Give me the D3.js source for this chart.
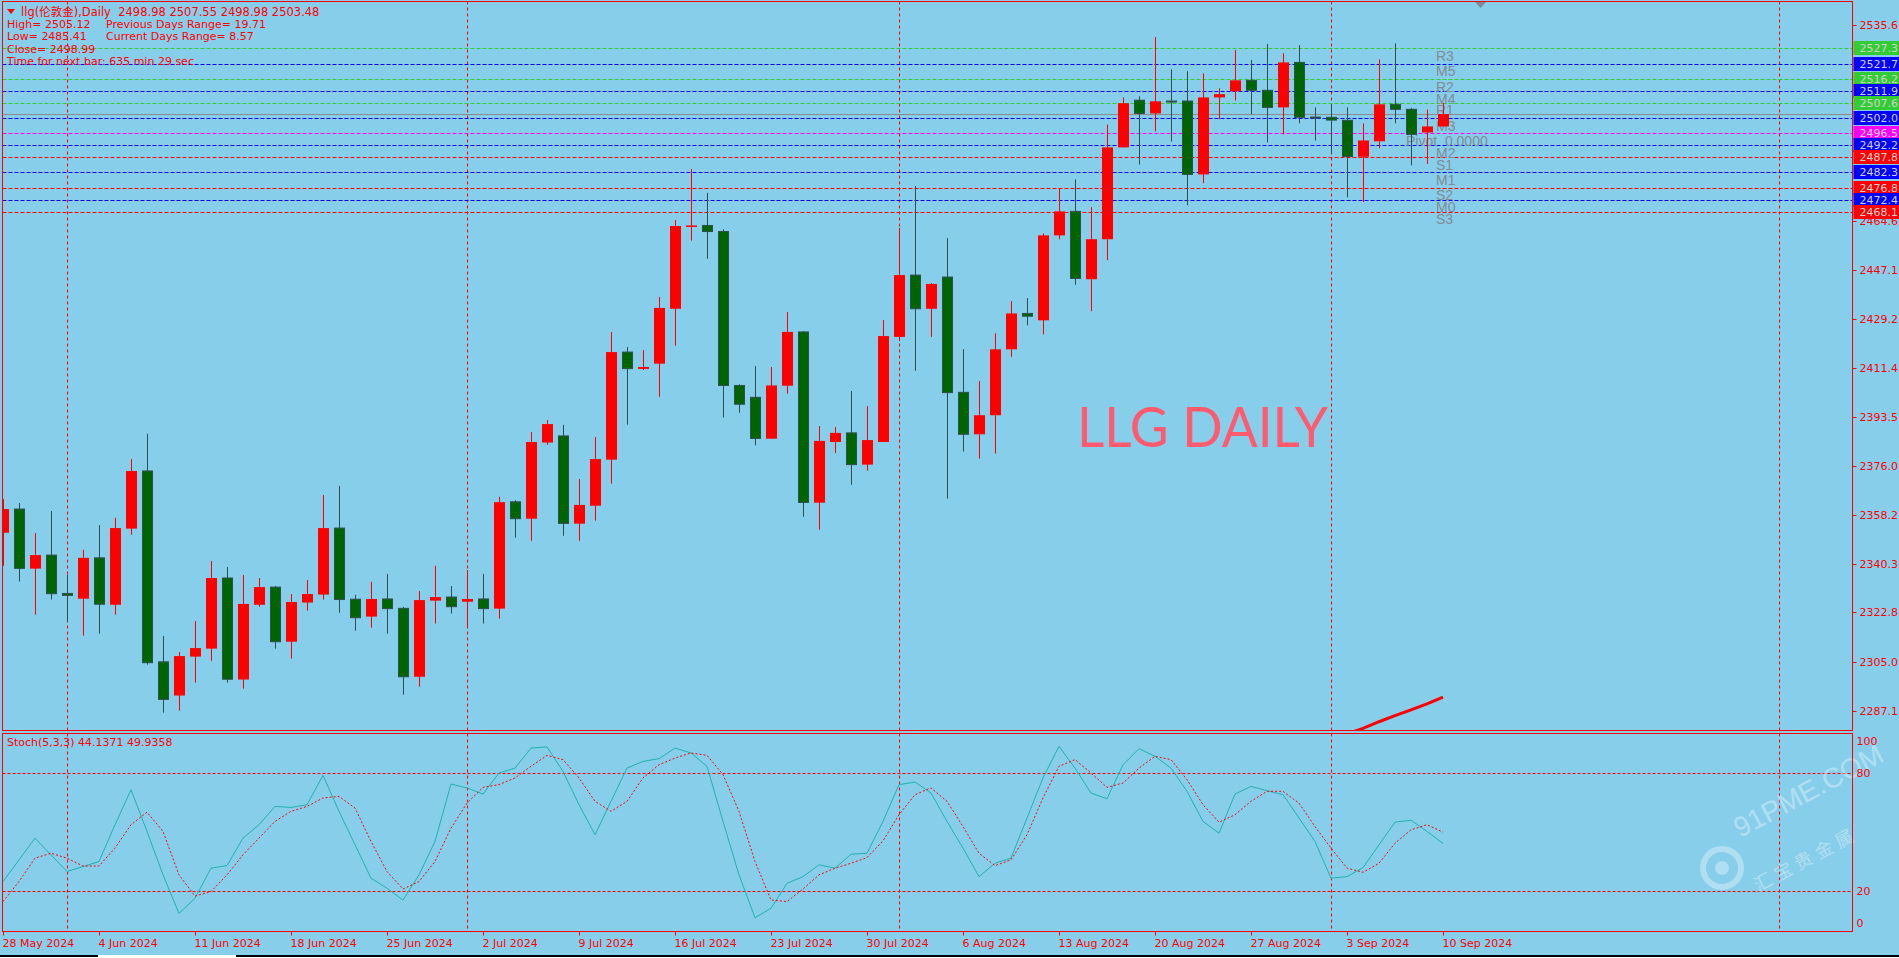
<!DOCTYPE html>
<html><head><meta charset="utf-8">
<script src="https://cdn.jsdelivr.net/npm/d3@7"></script>
<style>
html,body{margin:0;padding:0;background:#87CEEB;overflow:hidden}
svg{display:block}
text{white-space:pre}
</style></head><body>
<svg id="c" width="1899" height="958"></svg>
<script>
// ---------- DATA ----------
const opens = [2351.7,2360.3,2338.7,2343.6,2329.7,2327.8,2342.6,2325.6,2353.2,2374.1,
2304.9,2292.7,2306.8,2309.7,2335.3,2298.5,2325.6,2332.0,2312.2,2326.4,
2329.3,2353.4,2327.6,2321.3,2327.7,2324.3,2299.5,2327.1,2328.4,2326.7,
2327.7,2324.2,2362.9,2356.8,2384.4,2386.8,2355.0,2361.5,2378.2,2417.2,
2411.1,2413.0,2432.9,2462.6,2463.1,2460.9,2405.1,2400.8,2385.8,2405.0,
2424.5,2362.6,2384.6,2387.9,2376.4,2384.6,2422.7,2445.1,2432.9,2444.4,
2402.6,2387.4,2394.3,2418.2,2431.2,2428.7,2459.5,2468.2,2443.6,2458.1,
2491.4,2508.5,2503.7,2508.2,2508.2,2481.6,2509.5,2511.7,2515.7,2512.1,
2505.9,2522.2,2502.4,2502.3,2501.2,2488.0,2493.6,2507.0,2505.2,2496.8,
2498.98];
const highs = [2363.9,2362.5,2351.6,2359.6,2336.4,2345.5,2354.5,2357.1,2378.4,2387.6,
2314.3,2308.5,2319.7,2341.5,2339.3,2336.4,2335.3,2332.4,2329.5,2334.6,
2365.4,2368.7,2329.2,2333.9,2336.8,2324.8,2330.6,2339.7,2332.4,2338.2,
2336.8,2364.7,2363.5,2388.2,2392.6,2390.8,2371.2,2386.4,2424.5,2419.0,
2417.9,2437.2,2465.1,2483.6,2474.9,2461.7,2405.5,2412.1,2411.8,2431.7,
2424.8,2390.4,2390.0,2403.1,2397.6,2428.8,2462.2,2477.4,2442.2,2458.5,
2418.3,2406.7,2424.0,2435.7,2436.8,2460.2,2476.6,2479.8,2469.7,2499.7,
2509.5,2509.9,2531.4,2519.7,2519.0,2518.2,2512.8,2526.7,2523.1,2528.9,
2525.5,2528.5,2505.9,2507.1,2505.9,2500.1,2523.3,2529.1,2505.7,2505.12,
2507.55];
const lows = [2339.7,2334.0,2322.0,2327.5,2319.5,2314.4,2315.1,2322.0,2351.0,2303.9,
2286.5,2287.2,2297.4,2305.3,2297.4,2295.2,2324.9,2309.7,2306.1,2323.5,
2327.5,2322.7,2316.2,2317.3,2315.1,2293.0,2295.9,2318.8,2322.4,2317.3,
2318.8,2320.6,2349.9,2348.8,2383.6,2350.6,2348.8,2356.1,2369.5,2390.9,
2410.7,2401.0,2419.5,2457.6,2451.0,2393.5,2395.2,2383.4,2385.8,2402.1,
2357.5,2352.8,2380.6,2369.1,2374.2,2384.6,2421.2,2410.4,2422.7,2364.1,
2381.1,2378.6,2380.4,2415.5,2426.9,2423.6,2458.1,2441.6,2432.0,2450.5,
2491.4,2485.2,2497.2,2493.5,2470.4,2478.4,2501.6,2508.4,2503.4,2493.2,
2496.1,2500.1,2493.9,2489.2,2473.3,2471.6,2491.1,2500.1,2484.9,2485.41,
2498.98];
const closes = [2360.3,2338.8,2343.6,2329.6,2329.0,2342.6,2325.8,2353.4,2374.1,2304.6,
2291.3,2307.0,2309.9,2335.3,2298.6,2325.9,2332.0,2312.2,2326.6,2329.5,
2353.4,2327.5,2320.9,2327.7,2324.2,2299.5,2327.3,2328.4,2324.9,2327.7,
2324.2,2362.8,2356.8,2384.6,2391.1,2355.1,2361.8,2378.4,2417.2,2411.2,
2411.8,2433.2,2462.9,2463.1,2460.9,2405.1,2398.3,2385.9,2405.1,2424.5,
2362.7,2385.0,2387.9,2376.4,2385.3,2423.0,2445.1,2432.9,2441.9,2402.5,
2387.4,2394.3,2418.2,2431.2,2430.2,2459.5,2468.2,2443.9,2458.1,2491.4,
2507.4,2503.7,2508.1,2508.0,2481.6,2509.5,2510.7,2515.7,2512.1,2505.9,
2522.2,2502.3,2502.2,2501.3,2488.1,2493.9,2507.0,2505.2,2496.1,2498.99,
2503.48];

const stochK = [24.8,35.8,46.9,38.4,29.9,32.4,35.0,53.7,71.5,50.3,
28.2,8.6,16.3,31.6,32.9,46.9,53.7,63.0,62.5,63.9,
78.8,60.5,43.5,26.5,21.4,15.4,28.2,45.2,74.4,72.4,
69.3,80.0,82.5,92.7,93.3,80.8,63.9,48.6,65.6,82.5,
85.9,87.3,92.7,90.2,83.4,55.4,28.2,6.4,11.2,23.9,
27.3,33.3,31.6,38.7,39.2,55.4,74.1,75.4,69.8,55.4,
41.8,27.3,34.1,36.7,57.1,77.5,93.6,82.5,69.8,66.9,
84.2,92.4,88.5,82.5,70.7,55.4,49.4,69.3,73.2,71.0,
69.0,57.1,45.2,26.5,27.3,31.9,43.5,55.0,56.0,50.3,
44.1371];
const stochD = [14.6,24.8,36.7,39.2,36.7,32.7,32.7,41.8,53.7,60.1,
50.3,28.2,17.4,19.7,28.2,38.4,46.9,55.4,60.5,63.0,
67.3,68.1,62.2,45.2,29.9,21.0,24.8,35.0,52.0,64.7,
72.7,74.1,77.5,83.4,89.0,86.8,77.5,65.6,60.5,65.6,
77.5,84.2,87.6,90.2,89.0,79.2,60.5,35.0,15.4,14.6,
21.0,28.2,31.6,34.1,37.0,45.5,58.8,69.0,72.4,65.6,
52.8,39.2,32.9,35.8,48.6,67.3,83.4,86.8,80.0,72.7,
74.9,82.5,88.5,86.8,76.6,63.9,55.0,58.8,65.6,70.7,
70.7,64.7,52.8,41.8,31.6,29.5,34.1,44.3,51.1,53.7,
49.9358];

const redLineStart = 84;
const redLineVals = [2278.8,2280.8,2283.2,2285.4,2287.5,2289.7,2292.1];

const priceTicks = [2535.6,2464.6,2447.1,2429.2,2411.4,2393.5,2376.0,2358.2,2340.3,2322.8,2305.0,2287.1];
const pivotNames  = ["R3","M5","R2","M4","R1","M3","Pivot  0.0000","M2","S1","M1","S2","M0","S3"];
const pivotValues = [2527.3,2521.7,2516.2,2511.9,2507.6,2502.0,2496.5,2492.2,2487.8,2482.3,2476.8,2472.4,2468.1];
const pivotKinds  = ["R","M","R","M","R","M","P","M","S","M","S","M","S"];

const dateLabels = ["28 May 2024","4 Jun 2024","11 Jun 2024","18 Jun 2024","25 Jun 2024","2 Jul 2024","9 Jul 2024","16 Jul 2024","23 Jul 2024","30 Jul 2024","6 Aug 2024","13 Aug 2024","20 Aug 2024","27 Aug 2024","3 Sep 2024","10 Sep 2024"];
const dateIdx = [0,6,12,18,24,30,36,42,48,54,60,66,72,78,84,90];
const separatorIdx = [4,29,56,83,111];

const stochLevels = [80,20];
const stochAxis = [100,80,20,0];

const infoLines = [
  "High= 2505.12",
  "Low= 2485.41",
  "Close= 2498.99",
  "Time for next bar: 635 min 29 sec"
];
const infoRight = ["Previous Days Range= 19.71","Current Days Range= 8.57"];
const titleLine = "llg(伦敦金),Daily  2498.98 2507.55 2498.98 2503.48";
const stochTitle = "Stoch(5,3,3) 44.1371 49.9358";

// ---------- LAYOUT ----------
const W=1899,H=958;
const L=2.5, R=1852.5, PT=1.5, PB=730.5, ST=733.5, SB=931.5;
const FONT = "'DejaVu Sans','Noto Sans CJK SC',sans-serif";
const RED = "#FF0000", BG="#87CEEB";
const kindColor = {R:"#32CD32", M:"#0000FF", P:"#FF00FF", S:"#FF0000"};

const x  = d3.scaleLinear().domain([0,90]).range([3,1443]);
const y  = d3.scaleLinear().domain([2280.2,2544.1]).range([730,2]);
const ys = d3.scaleLinear().domain([0,100]).range([930.3,733.7]);

const svg = d3.select('#c');
svg.append('rect').attr('width',W).attr('height',H).attr('fill',BG);

const defs = svg.append('defs');
defs.append('clipPath').attr('id','cp').append('rect').attr('x',L).attr('y',PT).attr('width',R-L).attr('height',PB-PT);
defs.append('clipPath').attr('id','cs').append('rect').attr('x',L).attr('y',ST).attr('width',R-L).attr('height',SB-ST);

const gp = svg.append('g').attr('clip-path','url(#cp)');
const gs = svg.append('g').attr('clip-path','url(#cs)');

// period separators
separatorIdx.forEach(i=>{
  const xx = Math.round(x(i))+0.5;
  [[gp,PT,PB],[gs,ST,SB]].forEach(([g,a,b])=>{
    g.append('line').attr('x1',xx).attr('x2',xx).attr('y1',a).attr('y2',b)
     .attr('stroke',RED).attr('stroke-width',1).attr('stroke-dasharray','3,3');
  });
});

// pivot lines
pivotValues.forEach((v,k)=>{
  const yy = Math.round(y(v))+0.5;
  gp.append('line').attr('x1',L).attr('x2',R).attr('y1',yy).attr('y2',yy)
    .attr('stroke',kindColor[pivotKinds[k]]).attr('stroke-width',1).attr('stroke-dasharray','4,2');
});

// current price line
{
  const yy = Math.round(y(closes[closes.length-1]))+0.5;
  gp.append('line').attr('x1',L).attr('x2',R).attr('y1',yy).attr('y2',yy)
    .attr('stroke','#8C8C8C').attr('stroke-width',1);
}

// pivot name labels
pivotValues.forEach((v,k)=>{
  const isP = pivotKinds[k]==='P';
  gp.append('text').attr('x', isP?1406:1436).attr('y', y(v)+12.7)
    .attr('font-family',"'Liberation Sans',Arial,sans-serif").attr('font-size',14)
    .attr('fill','#7f8c95').text(pivotNames[k]);
});

// candles
const cg = gp.append('g');
opens.forEach((o,i)=>{
  const c = closes[i];
  const bull = c>o;
  const xc = Math.round(x(i));
  const wickCol = bull ? RED : "#2F4F4F";
  cg.append('line').attr('x1',xc+0.5).attr('x2',xc+0.5)
    .attr('y1',y(highs[i])).attr('y2',y(lows[i]))
    .attr('stroke',wickCol).attr('stroke-width',1);
  const top = y(Math.max(o,c)), bot = y(Math.min(o,c));
  if (bull){
    cg.append('rect').attr('x',xc-5).attr('y',top).attr('width',11).attr('height',Math.max(1.5,bot-top))
      .attr('fill',RED);
  } else {
    cg.append('rect').attr('x',xc-4.5).attr('y',top).attr('width',10).attr('height',Math.max(1,bot-top))
      .attr('fill','#006400').attr('stroke','#2F4F4F').attr('stroke-width',1);
  }
});

// red thick line near bottom
gp.append('path')
  .datum(redLineVals)
  .attr('d', d3.line().x((v,k)=>x(redLineStart+k)).y(v=>y(v)))
  .attr('fill','none').attr('stroke',RED).attr('stroke-width',3);

// LLG DAILY
svg.append('text').attr('x',1077).attr('y',447)
  .attr('font-family',"Lato,'Open Sans',sans-serif").attr('font-size',56)
  .attr('textLength',251).attr('lengthAdjust','spacingAndGlyphs')
  .attr('fill','#FF5A6E').text('LLG DAILY');

// top-left info
svg.append('path').attr('d','M7,9 L15,9 L11,14 Z').attr('fill',RED);
svg.append('text').attr('x',21).attr('y',16).attr('font-family',FONT).attr('font-size',11.5)
  .attr('fill',RED).text(titleLine);
infoLines.forEach((t,k)=>{
  svg.append('text').attr('x',7).attr('y',28+k*12.3).attr('font-family',FONT).attr('font-size',11)
    .attr('fill',RED).text(t);
});
infoRight.forEach((t,k)=>{
  svg.append('text').attr('x',106).attr('y',28+k*12.3).attr('font-family',FONT).attr('font-size',11)
    .attr('fill',RED).text(t);
});

// stoch levels
stochLevels.forEach(v=>{
  const yy = Math.round(ys(v))+0.5;
  gs.append('line').attr('x1',L).attr('x2',R).attr('y1',yy).attr('y2',yy)
    .attr('stroke',RED).attr('stroke-width',1).attr('stroke-dasharray','3,2');
});
// stoch lines
const sl = d3.line().x((v,i)=>x(i)).y(v=>ys(v));
gs.append('path').datum(stochK).attr('d',sl).attr('fill','none').attr('stroke','#20B2AA').attr('stroke-width',1);
gs.append('path').datum(stochD).attr('d',sl).attr('fill','none').attr('stroke',RED).attr('stroke-width',1).attr('stroke-dasharray','2,2');
svg.append('text').attr('x',7).attr('y',746).attr('font-family',FONT).attr('font-size',11)
  .attr('fill',RED).text(stochTitle);

// watermark
const wm = svg.append('g').attr('opacity',0.35);
wm.append('circle').attr('cx',1722).attr('cy',868).attr('r',19).attr('fill','none').attr('stroke','#ffffff').attr('stroke-width',6);
wm.append('circle').attr('cx',1722).attr('cy',868).attr('r',7).attr('fill','#ffffff');
wm.append('text').attr('transform','translate(1740,838) rotate(-28)')
  .attr('font-family',"'Liberation Sans',Arial,sans-serif").attr('font-size',28)
  .attr('fill','#ffffff').text('91PME.COM');
wm.append('text').attr('transform','translate(1758,892) rotate(-28)')
  .attr('font-family',"'Noto Sans CJK SC',sans-serif").attr('font-size',18)
  .attr('fill','#ffffff').attr('letter-spacing',5).text('汇宝贵金属');

// borders
svg.append('rect').attr('x',L).attr('y',PT).attr('width',R-L).attr('height',PB-PT)
  .attr('fill','none').attr('stroke',RED).attr('stroke-width',1);
svg.append('rect').attr('x',L).attr('y',ST).attr('width',R-L).attr('height',SB-ST)
  .attr('fill','none').attr('stroke',RED).attr('stroke-width',1);

// chart shift marker
svg.append('path').attr('d','M1475,2 L1486,2 L1480.5,8 Z').attr('fill','#7f8c95');

// price axis
priceTicks.forEach(t=>{
  const yy = Math.round(y(t))+0.5;
  svg.append('line').attr('x1',R).attr('x2',R+4).attr('y1',yy).attr('y2',yy).attr('stroke',RED);
  svg.append('text').attr('x',R+7).attr('y',yy).attr('dy','0.36em')
    .attr('font-family',FONT).attr('font-size',11).attr('fill',RED).text(t.toFixed(1));
});
// pivot value boxes
pivotValues.forEach((v,k)=>{
  const yy = y(v);
  const col = kindColor[pivotKinds[k]];
  svg.append('rect').attr('x',R+1).attr('y',Math.round(yy)-7).attr('width',60).attr('height',14).attr('fill',col);
  svg.append('text').attr('x',R+7).attr('y',yy).attr('dy','0.36em')
    .attr('font-family',FONT).attr('font-size',11).attr('fill','#D0D0D0').text(v.toFixed(1));
});

// stoch axis labels
stochAxis.forEach(v=>{
  let yy = ys(v);
  if (v===100) yy = ys(v)+7.5;
  if (v===0) yy = ys(v)-7;
  svg.append('text').attr('x',R+4).attr('y',yy).attr('dy','0.36em')
    .attr('font-family',FONT).attr('font-size',11).attr('fill',RED).text(String(v));
});

// date axis
dateIdx.forEach((i,k)=>{
  const xx = Math.round(x(i))+0.5;
  svg.append('line').attr('x1',xx).attr('x2',xx).attr('y1',SB).attr('y2',SB+4).attr('stroke',RED);
  svg.append('text').attr('x',xx-1).attr('y',947)
    .attr('font-family',FONT).attr('font-size',11).attr('fill',RED).text(dateLabels[k]);
});

// bottom strip
svg.append('rect').attr('x',0).attr('y',955).attr('width',W).attr('height',2).attr('fill','#000');
svg.append('rect').attr('x',98).attr('y',955).attr('width',138).attr('height',3).attr('fill','#fff');
svg.append('rect').attr('x',0).attr('y',957).attr('width',W).attr('height',1).attr('fill','#fff');
</script>
</body></html>
